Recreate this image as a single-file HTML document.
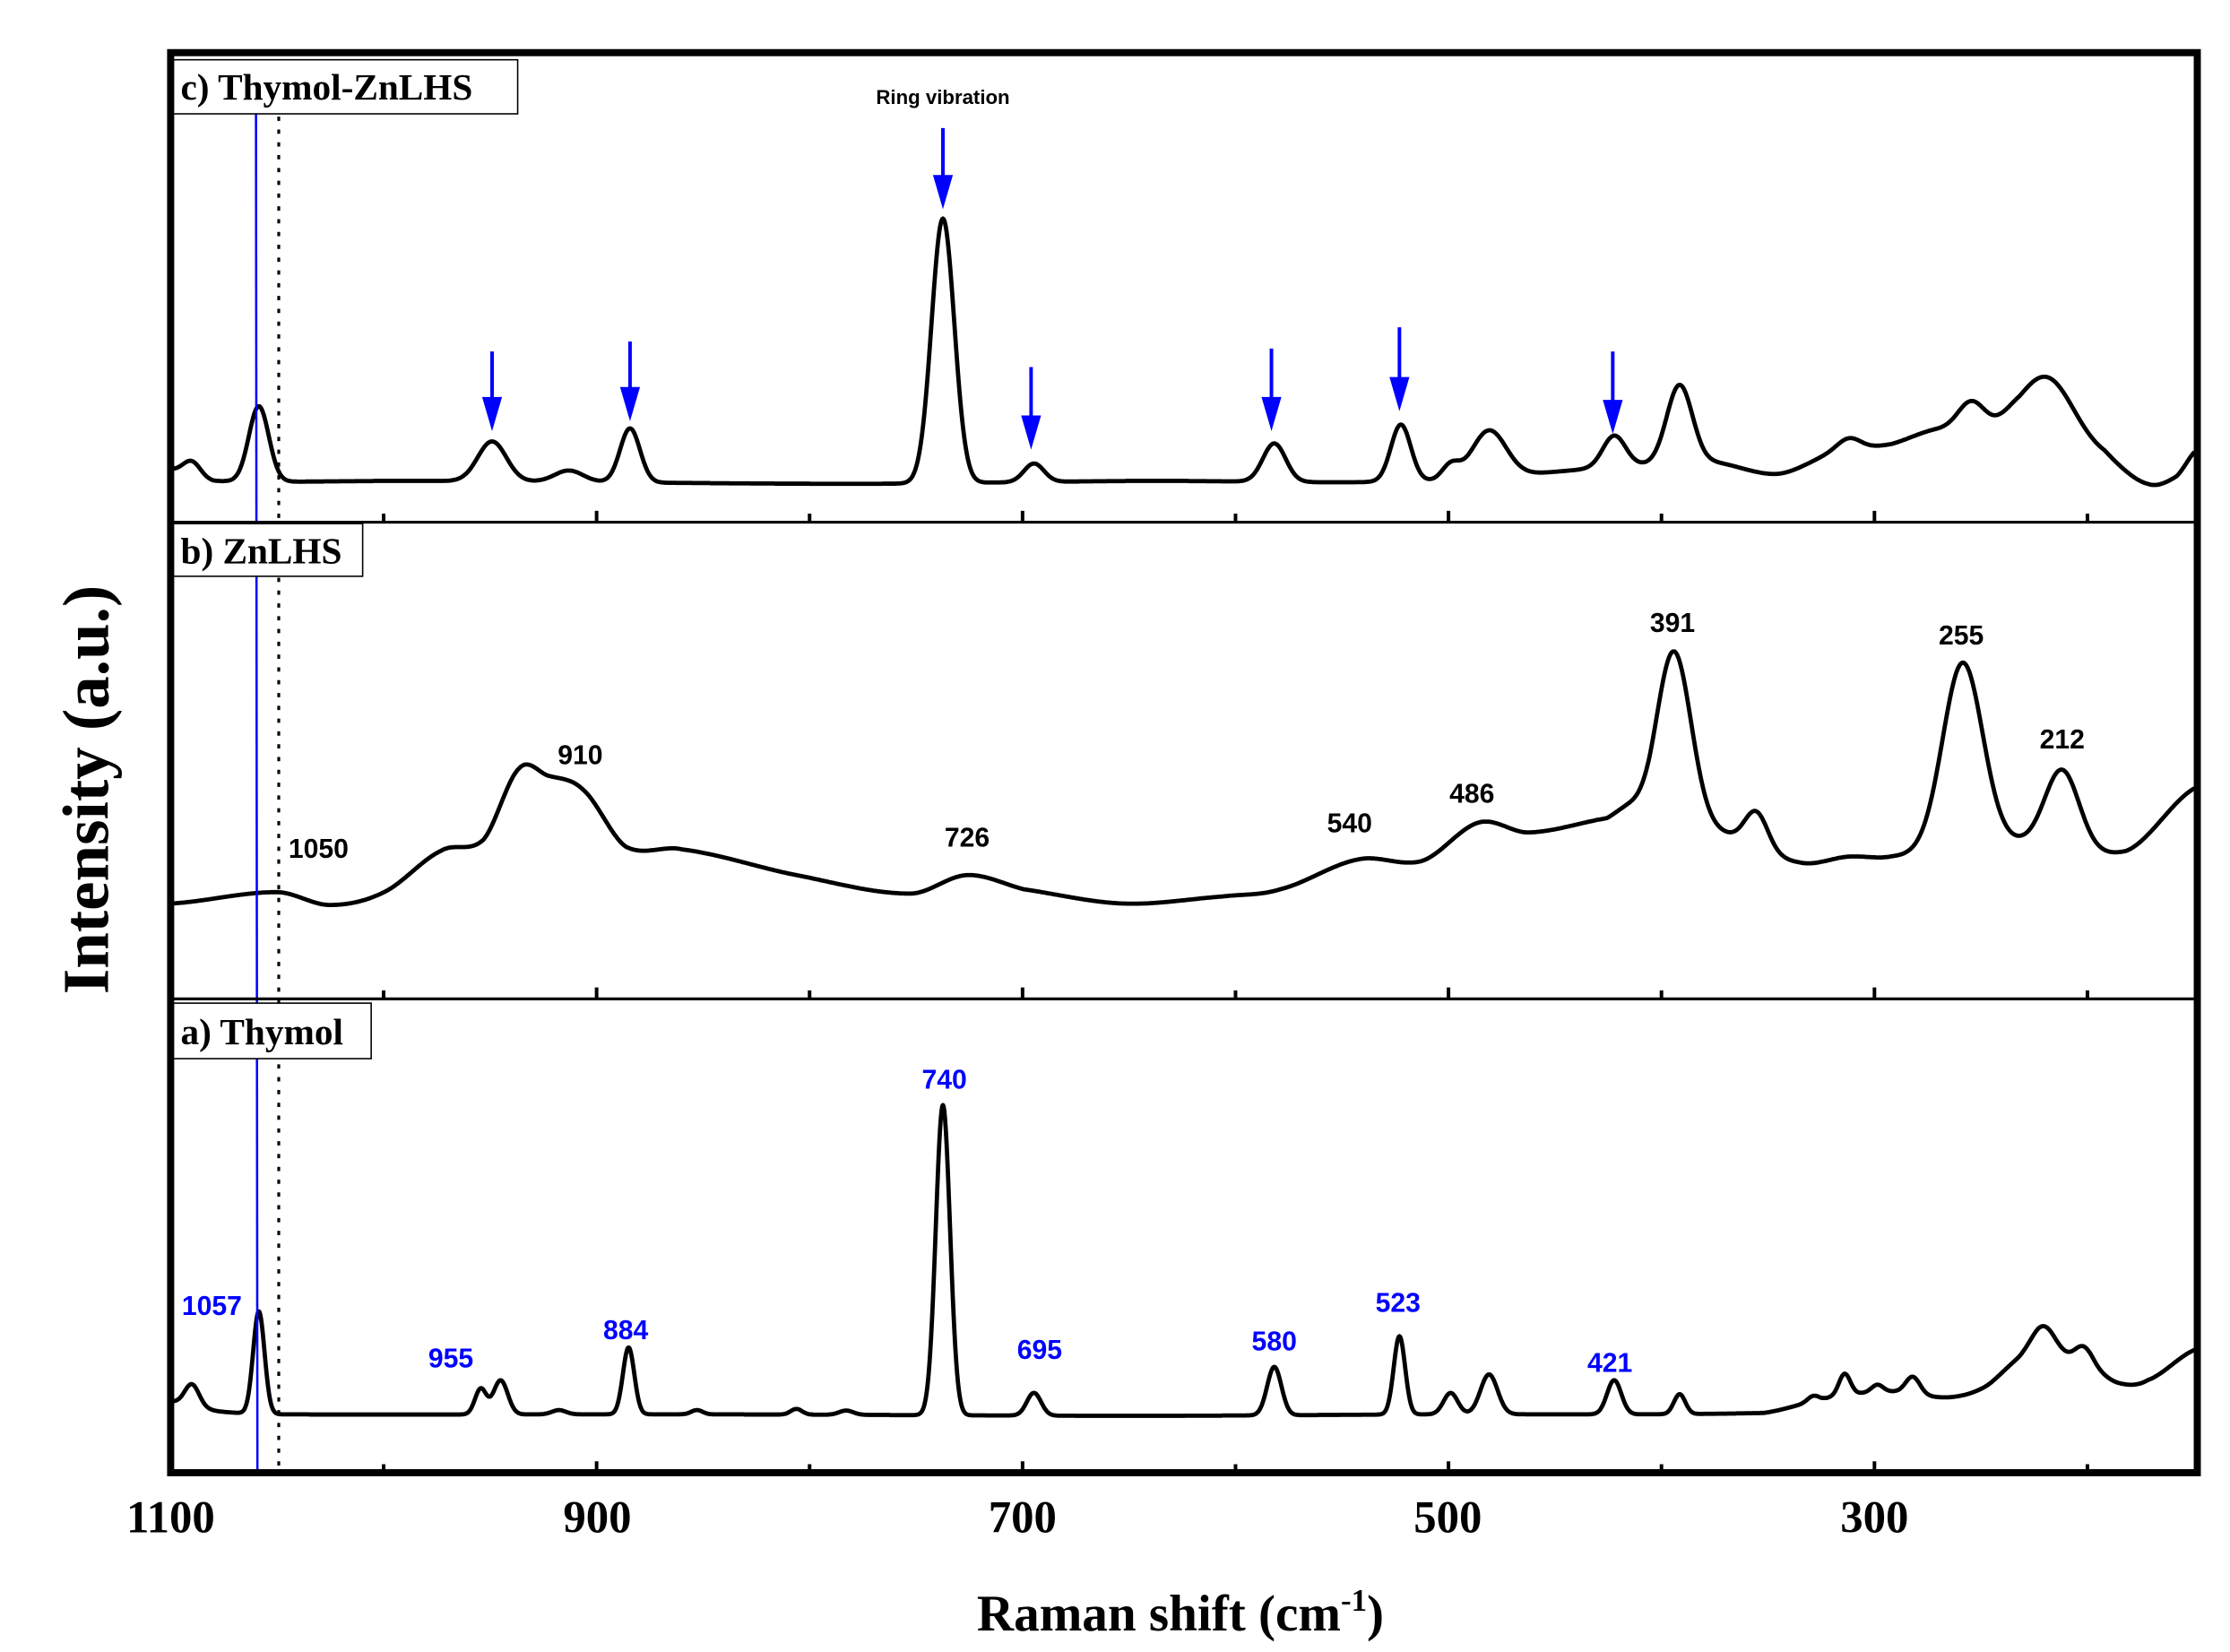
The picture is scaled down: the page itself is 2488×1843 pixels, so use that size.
<!DOCTYPE html>
<html><head><meta charset="utf-8"><style>html,body{margin:0;padding:0;background:#fff}svg{display:block}</style></head>
<body>
<svg id="s" width="2488" height="1843" viewBox="0 0 1568 1161" preserveAspectRatio="none" xmlns="http://www.w3.org/2000/svg">
<rect width="1580" height="1170" fill="#fff"/>
<g id="curves" fill="none" stroke="#000" stroke-width="3" stroke-linejoin="round"></g>
<line x1="180" y1="80" x2="181" y2="1035" stroke="#0000ff" stroke-width="1.6"/>
<line x1="196" y1="82" x2="196" y2="1032" stroke="#000" stroke-width="2" stroke-dasharray="3,6"/>
<g stroke="#000" stroke-width="2">
<line x1="120" y1="367" x2="1545" y2="367"/><line x1="120" y1="702" x2="1545" y2="702"/>
</g>
<g id="ticks" stroke="#000" stroke-width="2.5"></g>
<rect x="120" y="37" width="1425" height="998" fill="none" stroke="#000" stroke-width="5"/>
<g font-family="Liberation Serif, serif" font-weight="bold" fill="#000">
<rect x="122" y="42" width="242" height="38" fill="#fff" stroke="#000" stroke-width="1"/>
<text x="127" y="70" font-size="26">c) Thymol-ZnLHS</text>
<rect x="122" y="368" width="133" height="37" fill="#fff" stroke="#000" stroke-width="1"/>
<text x="127" y="396" font-size="26">b) ZnLHS</text>
<rect x="122" y="705" width="139" height="39" fill="#fff" stroke="#000" stroke-width="1"/>
<text x="127" y="734" font-size="26">a) Thymol</text>
<g font-size="32" text-anchor="middle">
<text x="120" y="1077">1100</text><text x="420" y="1077">900</text><text x="719" y="1077">700</text><text x="1018" y="1077">500</text><text x="1318" y="1077">300</text>
</g>
<text x="830" y="1146" font-size="36" text-anchor="middle">Raman shift (cm<tspan font-size="22" dy="-14">-1</tspan><tspan dy="14">)</tspan></text>
<text transform="translate(76,555) rotate(-90)" font-size="46" text-anchor="middle">Intensity (a.u.)</text>
</g>
<g font-family="Liberation Sans, sans-serif" font-weight="bold" text-anchor="middle">
<text x="663" y="73" font-size="14">Ring vibration</text>
<g font-size="19" fill="#000">
<text x="1176" y="444">391</text><text x="1379" y="453">255</text><text x="1450" y="526">212</text><text x="408" y="537">910</text><text x="224" y="603">1050</text><text x="680" y="595">726</text><text x="949" y="585">540</text><text x="1035" y="564">486</text>
</g>
<g font-size="19" fill="#0000ff">
<text x="149" y="924">1057</text><text x="317" y="961">955</text><text x="440" y="941">884</text><text x="664" y="765">740</text><text x="731" y="955">695</text><text x="896" y="949">580</text><text x="983" y="922">523</text><text x="1132" y="964">421</text>
</g>
</g>
<g id="arrows" fill="#0000ff" stroke="#0000ff"></g>
</svg>
<script>
function interp(pts,x){for(let i=0;i<pts.length-1;i++){if(x>=pts[i][0]&&x<=pts[i+1][0]){
 const p0=pts[Math.max(0,i-1)],p1=pts[i],p2=pts[i+1],p3=pts[Math.min(pts.length-1,i+2)];
 const t=(x-p1[0])/(p2[0]-p1[0]);const t2=t*t,t3=t2*t;
 return 0.5*((2*p1[1])+(-p0[1]+p2[1])*t+(2*p0[1]-5*p1[1]+4*p2[1]-p3[1])*t2+(-p0[1]+3*p1[1]-3*p2[1]+p3[1])*t3);}}
 return pts[pts.length-1][1];}
function curve(base,peaks){let d="";for(let x=121;x<=1543;x+=0.5){let y=interp(base,x);for(const p of peaks){y-=p[1]*Math.exp(-((x-p[0])**2)/(2*p[2]*p[2]));}d+=(d?"L":"M")+x.toFixed(1)+","+y.toFixed(1);}return d;}
const C=[
[[[120,330],[150,338],[300,338],[600,340],[800,338],[1000,338],[1200,325],[1250,333],[1290,318],[1330,312],[1360,302],[1400,300],[1420,300],[1480,320],[1510,340],[1530,335],[1545,316]],
[[135,10,6],[182,53,7],[346,28,10],[400,8,10],[443,38,7],[663,186,8],[727,13,7],[896,27,8],[985,40,7],[1047,33,12],[1020,10,6],[1135,22,8],[1181,55,9],[1300,8,8],[1386,18,9],[1440,40,18]]],
[[[120,635],[195,627],[232,636],[270,627],[310,598],[340,590],[365,540],[385,545],[410,555],[440,595],[480,597],[560,615],[640,628],[680,615],[720,625],[790,635],[860,630],[900,625],[955,604],[1000,605],[1040,578],[1075,585],[1130,575],[1145,568],[1160,575],[1210,585],[1265,606],[1300,602],[1330,602],[1418,592],[1495,598],[1545,553]],
[[1177,120,12],[1380,130,14],[1450,55,12],[1235,25,8]]],
[[[120,985],[155,992],[200,994],[500,994],[800,995],[1000,994],[1240,993],[1280,984],[1300,980],[1330,978],[1370,982],[1395,975],[1420,955],[1437,950],[1470,960],[1490,972],[1510,970],[1545,948]],
[[135,15,5],[182,72,4],[338,18,4],[352,24,5],[393,3,5],[442,47,4],[490,3,4],[560,4,4],[595,3,5],[663,218,5],[727,16,5],[896,34,5],[984,55,4],[1020,15,5],[1047,28,6],[1135,24,5],[1181,14,4],[1275,4,4],[1297,15,4],[1320,5,4],[1345,12,5],[1437,18,8],[1465,12,6]]]];
const g=document.getElementById("curves");
for(const c of C){const p=document.createElementNS("http://www.w3.org/2000/svg","path");p.setAttribute("d",curve(c[0],c[1]));g.appendChild(p);}
const t=document.getElementById("ticks");let td="";
for(const yb of [367,702,1035]){for(let w=1000;w>=200;w-=100){const x=120+(1100-w)*1.4975;const L=(w%200==100)?8:6;td+=`M${x},${yb}V${yb-L}`;}}
const tp=document.createElementNS("http://www.w3.org/2000/svg","path");tp.setAttribute("d",td);t.appendChild(tp);
const a=document.getElementById("arrows");let ah="";
for(const [x,y1,y2] of [[346,247,303],[443,240,296],[663,90,147],[725,258,316],[894,245,303],[984,230,289],[1134,247,305]]){
ah+=`<line x1="${x}" y1="${y1}" x2="${x}" y2="${y2-20}" stroke-width="2.5"/><polygon stroke="none" points="${x-7},${y2-24} ${x+7},${y2-24} ${x},${y2}"/>`;}
a.innerHTML=ah;
</script>
</body></html>
